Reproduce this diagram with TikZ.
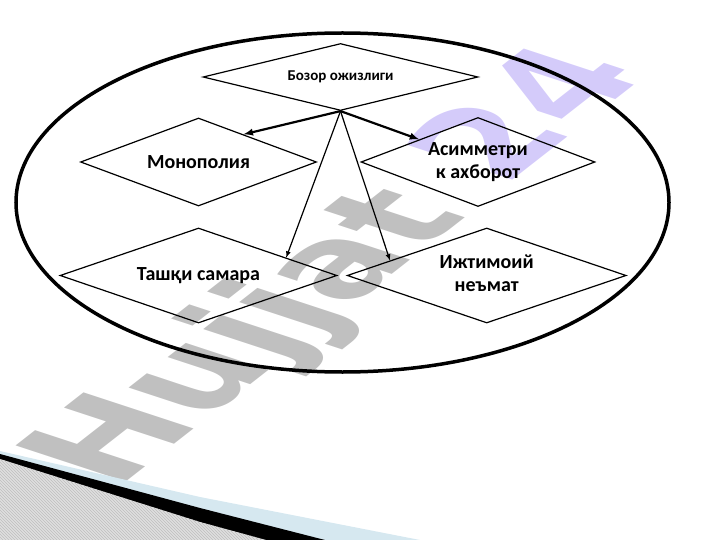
\documentclass[tikz,border=0pt]{standalone}
\usepackage{fontspec}
\setmainfont{Carlito}
\newfontfamily\wmfont{DejaVu Sans}
\usetikzlibrary{shapes.geometric,calc,patterns}
\definecolor{wmgray}{RGB}{192,192,192}
\definecolor{wmlav}{RGB}{212,203,250}
\definecolor{bandblue}{RGB}{214,232,240}
\newcommand{\dtext}[2]{\raisebox{#1}{\begin{tabular}{@{}c@{}}#2\end{tabular}}}
\begin{document}
\begin{tikzpicture}
	[x=1pt,y=-1pt,>=latex,
	 dia/.style={diamond,draw,line width=1.2pt,inner sep=0pt,font=\bfseries\fontsize{20}{23}\selectfont},
	 arr/.style={->,line width=1.2pt}]
	\useasboundingbox (0,0) rectangle (720,540);
	% watermark
	\node[name=wm,inner sep=0pt,font=\wmfont\bfseries\fontsize{132}{132}\selectfont,rotate=38,xslant=-0.67] at (342,268) {\textcolor{wmgray}{Hujjat} \textcolor{wmlav}{24}};
	% corner of the slide
	\fill[bandblue] (0,451)--(200,497)--(420,540)--(0,540)--cycle;
	\fill[black] (0,454)--(200,508)--(325,540)--(0,540)--cycle;
	\fill[gray!25] (0,459)--(200,522)--(266,540)--(0,540)--cycle;
	\fill[pattern=north west lines,pattern color=gray!50] (0,459)--(200,522)--(266,540)--(0,540)--cycle;
	% oval and diamonds
	\node[ellipse,draw,line width=3.5pt,minimum width=653pt,minimum height=339pt,name=oval] at (342.5,202.5) {};
	\node[dia,name=top,aspect=4.1,minimum width=275pt,minimum height=67pt,font=\bfseries\fontsize{15}{18}\selectfont] at (340.5,77) {Бозор ожизлиги};
	\node[dia,name=mono,aspect=2.68,minimum width=236pt,minimum height=88pt] at (198.5,162) {Монополия};
	\node[dia,name=asim,aspect=2.63,minimum width=234pt,minimum height=89pt] at (478,162) {\dtext{-8pt}{Асимметри\\к ахборот}};
	\node[dia,name=tash,aspect=2.92,minimum width=277pt,minimum height=95pt] at (198.5,275.5) {\dtext{6pt}{Ташқи самара}};
	\node[dia,name=ijt,aspect=2.94,minimum width=279pt,minimum height=95pt] at (486.7,275.5) {\dtext{-6pt}{Ижтимоий\\неъмат}};
	\draw[arr,line width=2.2pt](top.south)--($(mono.north)!0.38!(mono.east)$);
	\draw[arr,line width=2.2pt](top.south)--(asim.north west);
	\draw[arr](top.south)--($(tash.north)!0.63!(tash.east)$);
	\draw[arr](top.south)--($(ijt.north)!0.69!(ijt.west)$);
\end{tikzpicture}
\end{document}
